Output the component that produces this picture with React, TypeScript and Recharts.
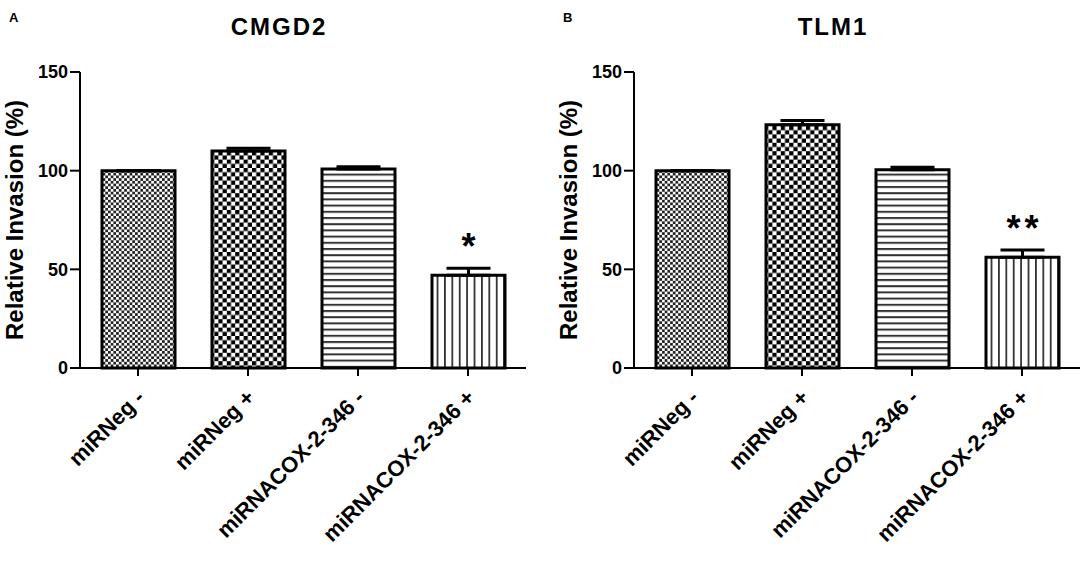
import { BarChart, Bar, XAxis, YAxis, Cell, ErrorBar, LabelList } from "recharts";

const categories = ["miRNeg -", "miRNeg +", "miRNACOX-2-346 -", "miRNACOX-2-346 +"];
const cmgd2Values = [100, 110, 100.8, 47];
const cmgd2Errors = [0, 1.3, 1.2, 3.5];
const cmgd2Marks = ["", "", "", "*"];
const tlm1Values = [100, 123.3, 100.5, 56.1];
const tlm1Errors = [0, 2.1, 1.2, 3.7];
const tlm1Marks = ["", "", "", "**"];
const yTicks = [0, 50, 100, 150];

const FONT = '"Liberation Sans", Arial, sans-serif';
const fills = ["url(#fineCheck)", "url(#coarseCheck)", "url(#hLines)", "url(#vLines)"];

const XTick = ({ x, y, payload }: any) => {
  const ax = x + 8;
  const ay = y + 21;
  return (
    <text
      x={ax}
      y={ay}
      transform={`rotate(-45 ${ax} ${ay})`}
      textAnchor="end"
      fontSize={22}
      fontWeight="bold"
      fontFamily={FONT}
      fill="#000"
    >
      {payload.value}
    </text>
  );
};

const MarkLabel = ({ x, y, width, value }: any) => {
  if (!value) return null;
  return (
    <text
      x={x + width / 2 + 2}
      y={y - 16}
      textAnchor="middle"
      fontSize={36}
      fontWeight="bold"
      fontFamily={FONT}
      letterSpacing={4}
      fill="#000"
    >
      {value}
    </text>
  );
};

function Panel({ left, letter, title, values, errors, marks }: any) {
  const data = categories.map((name, i) => ({
    name,
    value: values[i],
    err: [0, errors[i]],
    mark: marks[i],
  }));
  return (
    <div style={{ position: "absolute", left, top: 0, width: 530, height: 563 }}>
      <BarChart
        width={530}
        height={563}
        data={data}
        margin={{ top: 72, right: 4, left: 0, bottom: 25 }}
      >
        <XAxis
          dataKey="name"
          height={170}
          interval={0}
          padding={{ left: 3, right: 3 }}
          tick={<XTick />}
          tickSize={8}
          tickMargin={2}
          tickLine={{ stroke: "#000", strokeWidth: 2 }}
          axisLine={{ stroke: "#000", strokeWidth: 2 }}
        />
        <YAxis
          width={80}
          domain={[0, 150]}
          ticks={yTicks}
          interval={0}
          tickSize={10}
          tickMargin={2}
          tickLine={{ stroke: "#000", strokeWidth: 2 }}
          axisLine={{ stroke: "#000", strokeWidth: 2 }}
          tick={{ fill: "#000", fontSize: 18, fontWeight: "bold", fontFamily: FONT }}
        />
        <Bar dataKey="value" barSize={73} stroke="#000" strokeWidth={3} isAnimationActive={false}>
          {data.map((d, i) => (
            <Cell key={d.name} fill={fills[i]} />
          ))}
          <ErrorBar dataKey="err" direction="y" width={22} stroke="#000" strokeWidth={3} isAnimationActive={false} />
          <LabelList dataKey="mark" content={<MarkLabel />} />
        </Bar>
      </BarChart>
      <svg
        width={530}
        height={563}
        style={{ position: "absolute", left: 0, top: 0, pointerEvents: "none" }}
      >
        <text x={9} y={22} fontSize={13} fontWeight="bold" fontFamily={FONT} fill="#000">
          {letter}
        </text>
        <text
          x={279}
          y={35}
          textAnchor="middle"
          fontSize={24}
          fontWeight="bold"
          letterSpacing={2}
          fontFamily={FONT}
          fill="#000"
        >
          {title}
        </text>
        <text
          x={23}
          y={220}
          transform="rotate(-90 23 220)"
          textAnchor="middle"
          fontSize={24}
          fontWeight="bold"
          fontFamily={FONT}
          fill="#000"
        >
          Relative Invasion (%)
        </text>
      </svg>
    </div>
  );
}

export default function App() {
  return (
    <div
      style={{
        position: "absolute",
        left: 0,
        top: 0,
        width: 1084,
        height: 563,
        background: "#fff",
        overflow: "hidden",
      }}
    >
      <svg width={0} height={0} style={{ position: "absolute" }}>
        <defs>
          <pattern id="fineCheck" width={5.4} height={5.4} patternUnits="userSpaceOnUse">
            <rect width={5.4} height={5.4} fill="#fff" />
            <rect width={2.7} height={2.7} fill="#222" />
            <rect x={2.7} y={2.7} width={2.7} height={2.7} fill="#222" />
          </pattern>
          <pattern id="coarseCheck" width={8.4} height={8.4} patternUnits="userSpaceOnUse">
            <rect width={8.4} height={8.4} fill="#fff" />
            <rect width={4.2} height={4.2} fill="#000" />
            <rect x={4.2} y={4.2} width={4.2} height={4.2} fill="#000" />
          </pattern>
          <pattern id="hLines" width={10} height={6.2} patternUnits="userSpaceOnUse">
            <rect width={10} height={6.2} fill="#fff" />
            <rect width={10} height={2} fill="#333" />
          </pattern>
          <pattern id="vLines" width={7.4} height={10} patternUnits="userSpaceOnUse">
            <rect width={7.4} height={10} fill="#fff" />
            <rect width={1.8} height={10} fill="#333" />
          </pattern>
        </defs>
      </svg>
      <Panel left={0} letter="A" title="CMGD2" values={cmgd2Values} errors={cmgd2Errors} marks={cmgd2Marks} />
      <Panel left={554} letter="B" title="TLM1" values={tlm1Values} errors={tlm1Errors} marks={tlm1Marks} />
    </div>
  );
}
